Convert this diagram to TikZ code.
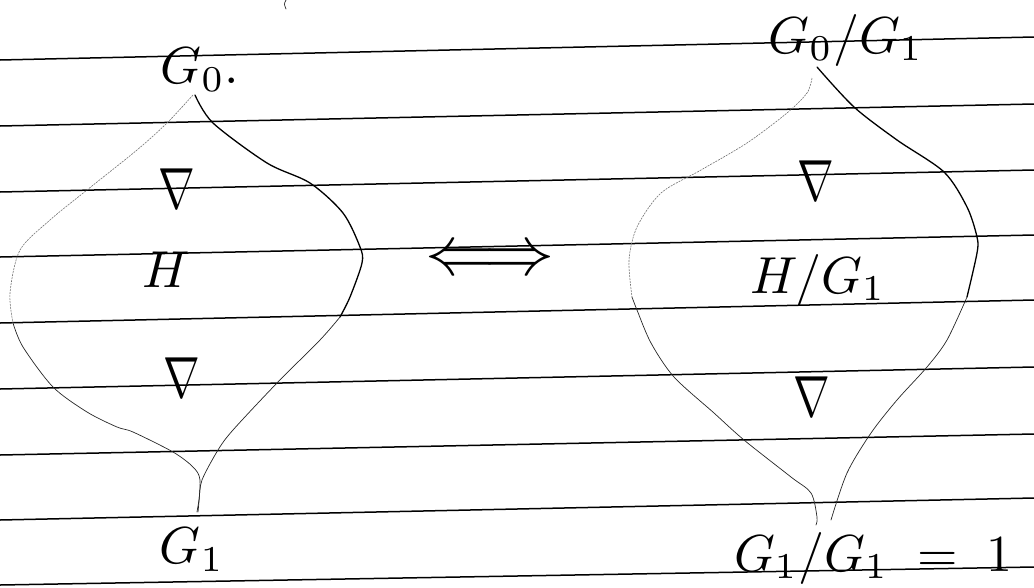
\documentclass[tikz,border=0pt]{standalone}
\begin{document}
\begin{tikzpicture}[x=1pt,y=-1pt,
  rule/.style={line width=1.5pt,black},
  heavy/.style={line width=1.3pt,black,line cap=round},
  thin/.style={line width=0.7pt,black!85,line cap=round},
  faint/.style={line width=0.6pt,black!55,dash pattern=on 2pt off 1pt},
  lbl/.style={inner sep=0pt,scale=5.2},
  sym/.style={inner sep=0pt,xscale=4.4,yscale=5.8}]
\useasboundingbox (0,0) rectangle (1034,587);
% ruled lines
\foreach \yl/\yr in {60/37,126/104,192/170,257/235,323/300,389/367,455/434,520/498,585/567}
  \draw[rule] (0,\yl) -- (1034,\yr);
% tiny mark at top
\draw[thin] (286,0) .. controls (284,4) .. (286,9);
% left shape
\draw[heavy] plot[smooth] coordinates {(195,95) (213,123) (267,163) (310,183) (343,213) (360,247) (362,263) (350,297) (340,317)};
\draw[thin] plot[smooth] coordinates {(340,317) (320,340) (277,383) (233,430) (218,450) (202,480) (199,500) (197,512)};
\draw[faint] plot[smooth] coordinates {(193,95) (167,123) (137,150) (87,190) (50,220) (20,250) (10,293) (13,323)};
\draw[thin] plot[smooth] coordinates {(13,323) (23,347) (53,387) (87,412) (117,427) (133,432) (173,452) (193,467) (200,480) (198,512)};
% right shape
\draw[heavy] plot[smooth] coordinates {(817,67) (854,107) (897,140) (944,172) (967,207) (977,237) (977,253) (967,297)};
\draw[thin] plot[smooth] coordinates {(967,297) (947,340) (927,367) (897,400) (871,433) (847,473) (831,520)};
\draw[faint] plot[smooth] coordinates {(812,78) (807,93) (787,113) (747,143) (701,170) (661,193) (637,227) (629,260) (632,297)};
\draw[thin] plot[smooth] coordinates {(632,297) (637,310) (651,343) (674,377) (714,413) (744,440) (791,477) (811,493) (817,517) (816,525)};
% labels
\node[lbl] (g0) at (200,70) {$G_{0}.$};
\node[sym] (n1) at (177,189) {$\nabla$};
\node[lbl] (h) at (166,270) {$H$};
\node[sym] (n2) at (182,378) {$\nabla$};
\node[lbl] (g1) at (192,550) {$G_{1}$};
\node[inner sep=0pt,scale=7] (eq) at (490,262) {$\Longleftrightarrow$};
\node[lbl] (q0) at (846,40) {$G_{0}/G_{1}$};
\node[sym] (n3) at (816,181) {$\nabla$};
\node[lbl] (hq) at (818,280) {$H/G_{1}$};
\node[sym] (n4) at (812,397) {$\nabla$};
\node[lbl,anchor=west] (q1) at (733,558) {$G_{1}/G_{1}\;=\;1$};
\end{tikzpicture}
\end{document}
